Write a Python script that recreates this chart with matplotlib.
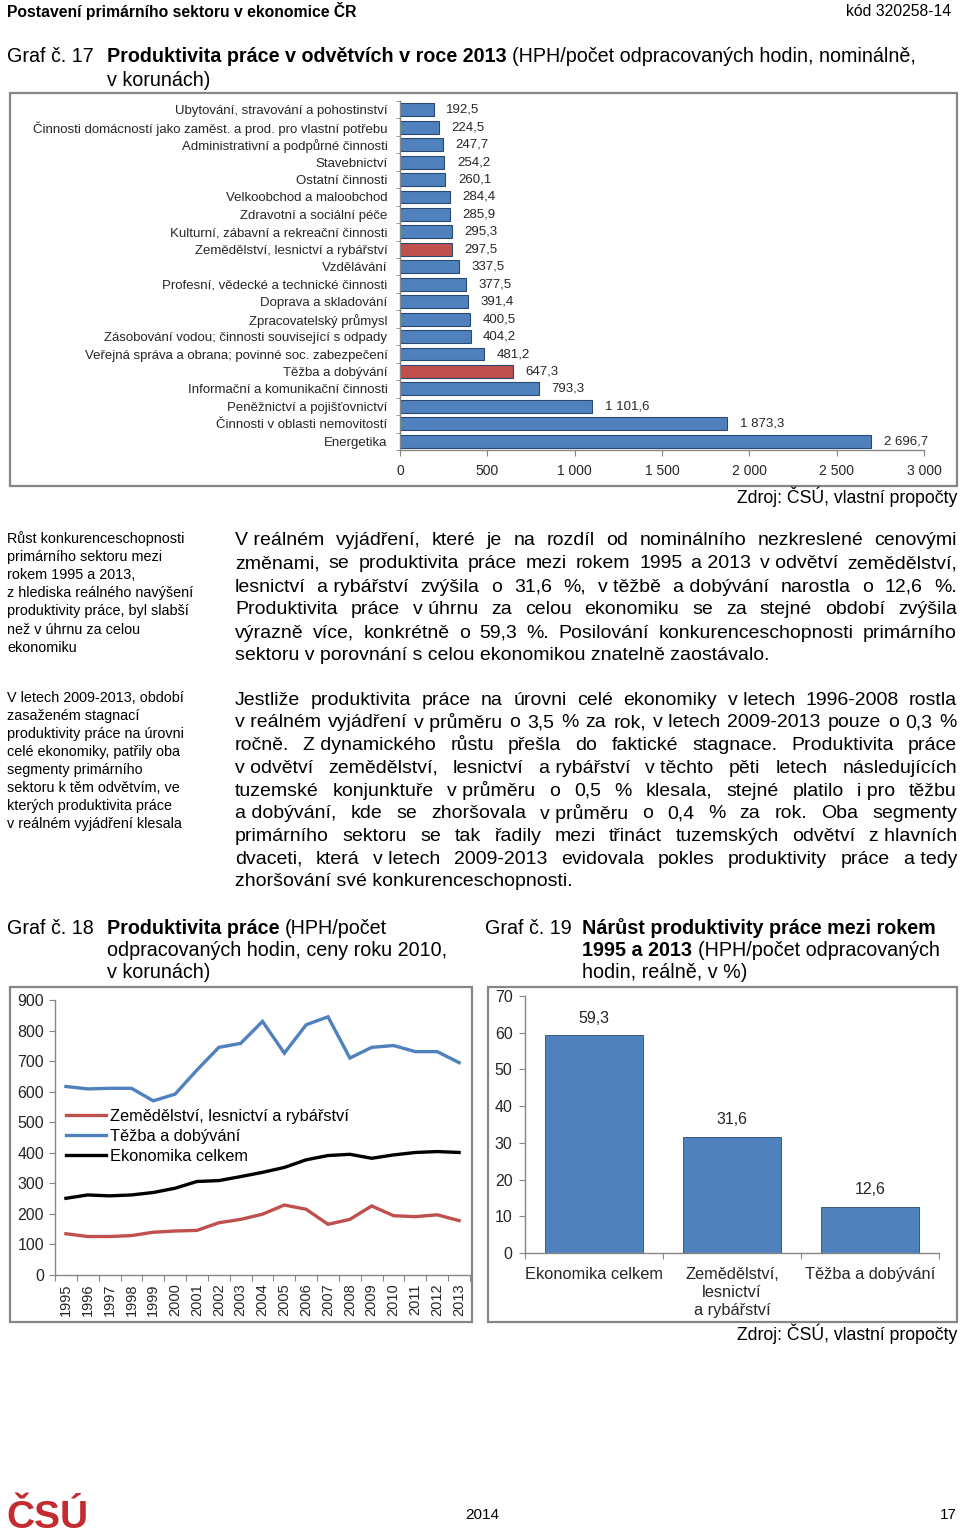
import matplotlib
matplotlib.use("Agg")
import matplotlib.pyplot as plt
from matplotlib.patches import Rectangle


W, H = 960, 1540
BLUE = "#4F81BD"
RED = "#C0504D"
EDGE = "#2B4A72"
AXIS_GRAY = "#868686"
TEXT_DARK = "#262626"
TITLE_SIZE = 14.2

plt.rcParams["font.family"] = ["Liberation Sans", "DejaVu Sans"]

# Graf 17 - produktivita prace v odvetvich 2013 (nominalne, Kc)
sectors = [
    "Ubytování, stravování a pohostinství",
    "Činnosti domácností jako zaměst. a prod. pro vlastní potřebu",
    "Administrativní a podpůrné činnosti",
    "Stavebnictví",
    "Ostatní činnosti",
    "Velkoobchod a maloobchod",
    "Zdravotní a sociální péče",
    "Kulturní, zábavní a rekreační činnosti",
    "Zemědělství, lesnictví a rybářství",
    "Vzdělávání",
    "Profesní, vědecké a technické činnosti",
    "Doprava a skladování",
    "Zpracovatelský průmysl",
    "Zásobování vodou; činnosti související s odpady",
    "Veřejná správa a obrana; povinné soc. zabezpečení",
    "Těžba a dobývání",
    "Informační a komunikační činnosti",
    "Peněžnictví a pojišťovnictví",
    "Činnosti v oblasti nemovitostí",
    "Energetika",
]
sector_values = [192.5, 224.5, 247.7, 254.2, 260.1, 284.4, 285.9, 295.3, 297.5,
                 337.5, 377.5, 391.4, 400.5, 404.2, 481.2, 647.3, 793.3,
                 1101.6, 1873.3, 2696.7]
primary_sectors = ["Zemědělství, lesnictví a rybářství", "Těžba a dobývání"]
sector_ticks = [0, 500, 1000, 1500, 2000, 2500, 3000]
sector_tick_labels = ["0", "500", "1 000", "1 500", "2 000", "2 500", "3 000"]

# Graf 18 - produktivita prace v case (ceny roku 2010, Kc)
years = ["1995", "1996", "1997", "1998", "1999", "2000", "2001", "2002",
         "2003", "2004", "2005", "2006", "2007", "2008", "2009", "2010",
         "2011", "2012", "2013"]
agriculture = [135, 126, 126, 129, 140, 144, 146, 171, 182, 199, 229, 215,
               166, 182, 226, 194, 191, 197, 178]
mining = [617, 609, 611, 611, 570, 592, 671, 745, 758, 830, 726, 819, 845,
          710, 745, 751, 731, 731, 695]
economy = [251, 262, 259, 262, 270, 284, 306, 309, 322, 336, 352, 377, 391,
           395, 382, 393, 401, 404, 401]
line_series = [
    ("Zemědělství, lesnictví a rybářství", agriculture, RED),
    ("Těžba a dobývání", mining, BLUE),
    ("Ekonomika celkem", economy, "black"),
]

# Graf 19 - narust produktivity 1995-2013 (realne, %)
growth_labels = ["Ekonomika celkem", "Zemědělství,\nlesnictví\na rybářství",
                 "Těžba a dobývání"]
growth_values = [59.3, 31.6, 12.6]

# one-letter prepositions stay glued to the next word (Czech typesetting)
GLUED = {"v", "z", "s", "k", "a", "i", "V", "Z"}

fig = plt.figure(figsize=(W / 100, H / 100), dpi=100)
renderer = fig.canvas.get_renderer()


def fx(x):
    return x / W


def fy(y):
    return 1 - y / H


def put(x, y, s, **kw):
    kw.setdefault("va", "center")
    kw.setdefault("color", "black")
    return fig.text(fx(x), fy(y), s, **kw)


def text_width(t):
    return t.get_window_extent(renderer).width


def put_runs(x, y, runs, size):
    # runs of (text, weight) laid out one after another on a line
    for s, weight in runs:
        t = put(x, y, s, fontsize=size, fontweight=weight)
        x += text_width(t) + 0.28 * size * 100 / 72


def tokens(line):
    words = line.split(" ")
    out = []
    carry = ""
    for w in words:
        if w in GLUED:
            carry += w + " "
        else:
            out.append(carry + w)
            carry = ""
    if carry:
        out.append(carry.strip())
    return out


def justify(lines, x0, x1, y0, step, size):
    for i, line in enumerate(lines):
        y = y0 + i * step
        if i == len(lines) - 1:
            put(x0, y, line, fontsize=size)
            continue
        words = tokens(line)
        arts = [put(x0, y, w, fontsize=size) for w in words]
        widths = [text_width(a) for a in arts]
        gap = (x1 - x0 - sum(widths)) / (len(words) - 1)
        x = x0
        for a, w in zip(arts, widths):
            a.set_x(fx(x))
            x += w + gap


def frame(x0, y0, x1, y1):
    fig.add_artist(Rectangle((fx(x0), fy(y1)), (x1 - x0) / W, (y1 - y0) / H,
                             transform=fig.transFigure, fill=False,
                             edgecolor=AXIS_GRAY, linewidth=1.6))


def style_axes(ax):
    for side in ["top", "right"]:
        ax.spines[side].set_visible(False)
    for side in ["left", "bottom"]:
        ax.spines[side].set_color(AXIS_GRAY)
        ax.spines[side].set_linewidth(1.0)
    ax.tick_params(which="both", color=AXIS_GRAY, labelcolor=TEXT_DARK)


# page header
put(7, 11, "Postavení primárního sektoru v ekonomice ČR", fontsize=11.3,
    fontweight="bold")
put(951, 11, "kód 320258-14", fontsize=11.3, ha="right")

# Graf 17
put(7, 57, "Graf č. 17", fontsize=TITLE_SIZE)
put_runs(107, 57, [("Produktivita práce v odvětvích v roce 2013", "bold"),
                   ("(HPH/počet odpracovaných hodin, nominálně,", "normal")],
         TITLE_SIZE)
put(107, 80, "v korunách)", fontsize=TITLE_SIZE)
frame(10, 93, 957, 486)

ax1 = fig.add_axes([fx(400), fy(450), (924 - 400) / W, (450 - 101) / H])
positions = list(range(len(sectors)))
colors = [RED if s in primary_sectors else BLUE for s in sectors]
ax1.barh(positions, sector_values, height=0.74, color=colors,
         edgecolor=EDGE, linewidth=0.8)
for pos, val in zip(positions, sector_values):
    label = f"{val:,.1f}".replace(",", " ").replace(".", ",")
    ax1.annotate(label, (val, pos), xytext=(9, 0), textcoords="offset points",
                 va="center", ha="left", fontsize=9.5, color=TEXT_DARK)
ax1.set_ylim(len(sectors) - 0.5, -0.5)
ax1.set_xlim(0, 3000)
ax1.set_yticks(positions, sectors, fontsize=9.5)
ax1.set_yticks([p - 0.5 for p in positions] + [len(sectors) - 0.5], minor=True)
ax1.tick_params(axis="y", which="major", length=0, pad=9)
ax1.tick_params(axis="y", which="minor", length=3)
ax1.set_xticks(sector_ticks, sector_tick_labels, fontsize=10)
ax1.tick_params(axis="x", length=4, pad=6)
style_axes(ax1)
put(957, 497, "Zdroj: ČSÚ, vlastní propočty", fontsize=12.7, ha="right")

# side notes
side_note_1 = ["Růst konkurenceschopnosti", "primárního sektoru mezi",
               "rokem 1995 a 2013,", "z hlediska reálného navýšení",
               "produktivity práce, byl slabší", "než v úhrnu za celou",
               "ekonomiku"]
side_note_2 = ["V letech 2009-2013, období", "zasaženém stagnací",
               "produktivity práce na úrovni", "celé ekonomiky, patřily oba",
               "segmenty primárního", "sektoru k těm odvětvím, ve",
               "kterých produktivita práce", "v reálném vyjádření klesala"]
for i, line in enumerate(side_note_1):
    put(7, 539 + i * 18.1, line, fontsize=10.4)
for i, line in enumerate(side_note_2):
    put(7, 698 + i * 18.0, line, fontsize=10.4)

paragraph_1 = [
    "V reálném vyjádření, které je na rozdíl od nominálního nezkreslené cenovými",
    "změnami, se produktivita práce mezi rokem 1995 a 2013 v odvětví zemědělství,",
    "lesnictví a rybářství zvýšila o 31,6 %, v těžbě a dobývání narostla o 12,6 %.",
    "Produktivita práce v úhrnu za celou ekonomiku se za stejné období zvýšila",
    "výrazně více, konkrétně o 59,3 %. Posilování konkurenceschopnosti primárního",
    "sektoru v porovnání s celou ekonomikou znatelně zaostávalo.",
]
paragraph_2 = [
    "Jestliže produktivita práce na úrovni celé ekonomiky v letech 1996-2008 rostla",
    "v reálném vyjádření v průměru o 3,5 % za rok, v letech 2009-2013 pouze o 0,3 %",
    "ročně. Z dynamického růstu přešla do faktické stagnace. Produktivita práce",
    "v odvětví zemědělství, lesnictví a rybářství v těchto pěti letech následujících",
    "tuzemské konjunktuře v průměru o 0,5 % klesala, stejné platilo i pro těžbu",
    "a dobývání, kde se zhoršovala v průměru o 0,4 % za rok. Oba segmenty",
    "primárního sektoru se tak řadily mezi třináct tuzemských odvětví z hlavních",
    "dvaceti, která v letech 2009-2013 evidovala pokles produktivity práce a tedy",
    "zhoršování své konkurenceschopnosti.",
]
justify(paragraph_1, 235, 957, 541, 23.0, 14.0)
justify(paragraph_2, 235, 957, 700, 22.75, 14.0)

# Graf 18
put(7, 928, "Graf č. 18", fontsize=TITLE_SIZE)
put_runs(107, 928, [("Produktivita práce", "bold"), ("(HPH/počet", "normal")],
         TITLE_SIZE)
put(107, 950, "odpracovaných hodin, ceny roku 2010,", fontsize=TITLE_SIZE)
put(107, 973, "v korunách)", fontsize=TITLE_SIZE)
frame(10, 987, 472, 1322)

ax2 = fig.add_axes([fx(55), fy(1275), (470 - 55) / W, (1275 - 1000) / H])
x_pos = list(range(len(years)))
for name, values, color in line_series:
    ax2.plot(x_pos, values, color=color, linewidth=2.4, label=name,
             solid_joinstyle="miter")
ax2.set_xlim(-0.5, len(years) - 0.5)
ax2.set_ylim(0, 900)
ax2.set_yticks(range(0, 901, 100))
ax2.tick_params(axis="y", labelsize=11.5, length=4, pad=4)
ax2.set_xticks([p - 0.5 for p in x_pos] + [len(years) - 0.5])
ax2.set_xticklabels([])
ax2.tick_params(axis="x", which="major", length=4)
ax2.set_xticks(x_pos, minor=True)
ax2.set_xticklabels(years, minor=True, rotation=90, fontsize=10.5)
ax2.tick_params(axis="x", which="minor", length=0, pad=6)
style_axes(ax2)
ax2.legend(loc="upper left", bbox_to_anchor=(0.0, 0.645), frameon=False,
           fontsize=11.8, handlelength=2.4, handletextpad=0.25,
           labelspacing=0.3, borderaxespad=0.3)

# Graf 19
put(485, 928, "Graf č. 19", fontsize=TITLE_SIZE)
put(582, 928, "Nárůst produktivity práce mezi rokem", fontsize=TITLE_SIZE,
    fontweight="bold")
put_runs(582, 950, [("1995 a 2013", "bold"), ("(HPH/počet odpracovaných", "normal")],
         TITLE_SIZE)
put(582, 973, "hodin, reálně, v %)", fontsize=TITLE_SIZE)
frame(488, 987, 957, 1322)

ax3 = fig.add_axes([fx(525), fy(1253), (939 - 525) / W, (1253 - 996) / H])
g_pos = list(range(len(growth_values)))
ax3.bar(g_pos, growth_values, width=0.71, color=BLUE, edgecolor=EDGE,
        linewidth=0.6)
for pos, val in zip(g_pos, growth_values):
    ax3.annotate(f"{val:.1f}".replace(".", ","), (pos, val), xytext=(0, 7),
                 textcoords="offset points", ha="center", va="bottom",
                 fontsize=11.5, color=TEXT_DARK)
ax3.set_xlim(-0.5, len(growth_values) - 0.5)
ax3.set_ylim(0, 70)
ax3.set_yticks(range(0, 71, 10))
ax3.tick_params(axis="y", labelsize=11.5, length=4, pad=5)
ax3.set_xticks([p - 0.5 for p in g_pos] + [len(g_pos) - 0.5])
ax3.set_xticklabels([])
ax3.tick_params(axis="x", which="major", length=4)
ax3.set_xticks(g_pos, minor=True)
ax3.set_xticklabels(growth_labels, minor=True, fontsize=11.8,
                    linespacing=1.25, va="top")
ax3.tick_params(axis="x", which="minor", length=0, pad=10)
style_axes(ax3)
put(957, 1334, "Zdroj: ČSÚ, vlastní propočty", fontsize=12.7, ha="right")

# page footer
put(6, 1518, "ČSÚ", fontsize=28, fontweight="bold", color="#C42B2F")
put(482, 1515, "2014", fontsize=11, ha="center")
put(957, 1515, "17", fontsize=11, ha="right")

fig.savefig("out.png", dpi=100)
